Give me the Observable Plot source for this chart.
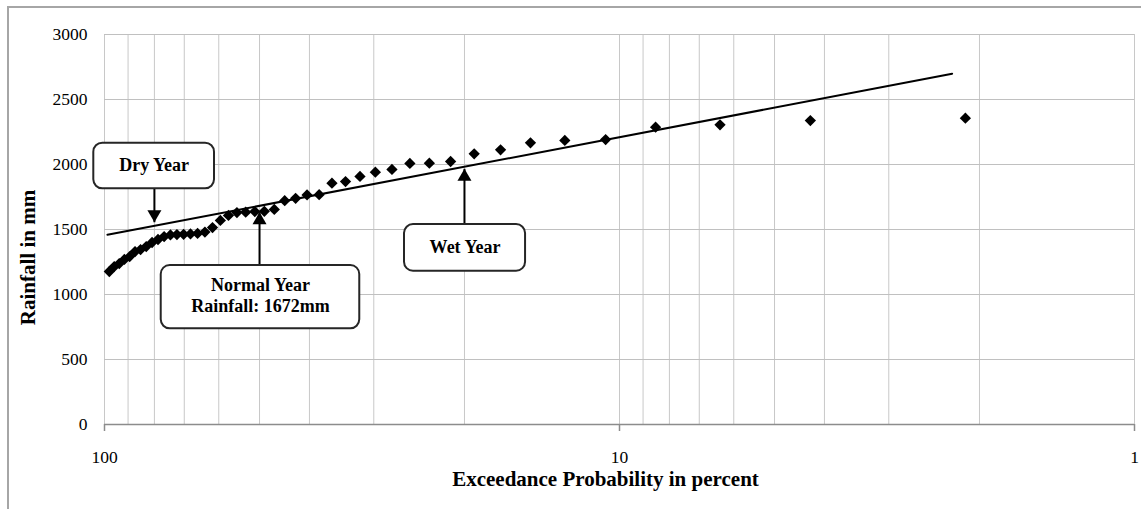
<!DOCTYPE html>
<html>
<head>
<meta charset="utf-8">
<script src="https://cdn.jsdelivr.net/npm/d3@7"></script>
<script src="https://cdn.jsdelivr.net/npm/@observablehq/plot@0.6"></script>
<style>
  html, body { margin: 0; padding: 0; background: #fff; }
  #wrap { position: relative; width: 1141px; height: 509px; overflow: hidden; }
  #border { position: absolute; left: 7px; top: 6px; width: 1200px; height: 600px;
            border-left: 2px solid #a6a6a6; border-top: 2px solid #a6a6a6; pointer-events: none; }
  svg { font-family: "Liberation Serif", "Times New Roman", serif; }
</style>
</head>
<body>
<div id="wrap"><div id="border"></div></div>
<script>
// Exceedance probability (%) of each ranked year
const exceedance = [2.13, 4.26, 6.38, 8.51, 10.64, 12.77, 14.89, 17.02, 19.15, 21.28,
  23.40, 25.53, 27.66, 29.79, 31.91, 34.04, 36.17, 38.30, 40.43, 42.55,
  44.68, 46.81, 48.94, 51.06, 53.19, 55.32, 57.45, 59.57, 61.70, 63.83,
  65.96, 68.09, 70.21, 72.34, 74.47, 76.60, 78.72, 80.85, 82.98, 85.11,
  87.23, 89.36, 91.49, 93.62, 95.74, 97.87];
// Annual rainfall (mm), ranked
const rainfall = [2356, 2338, 2305, 2287, 2192, 2185, 2167, 2113, 2082, 2023,
  2010, 2008, 1962, 1941, 1908, 1869, 1856, 1768, 1766, 1740,
  1722, 1654, 1640, 1638, 1633, 1630, 1608, 1570, 1515, 1480,
  1470, 1466, 1463, 1461, 1458, 1446, 1423, 1400, 1369, 1346,
  1330, 1292, 1270, 1238, 1215, 1177];
// Logarithmic trend line end points
const trendP = [98.7, 2.26];
const trendRain = [1459, 2698];
// Axis ticks and grid
const xTicks = [100, 10, 1];
const xGrid = [100, 90, 80, 70, 60, 50, 40, 30, 20, 10, 9, 8, 7, 6, 5, 4, 3, 2, 1];
const yTicks = [0, 500, 1000, 1500, 2000, 2500, 3000];
// Annotations
const annLabels = ["Dry Year", "Normal Year\nRainfall: 1672mm", "Wet Year"];
const annP1 = [104.9, 77.6, 26.15];
const annP2 = [61.15, 31.94, 15.22];
const annTop = [2164, 1223, 1538];
const annBottom = [1813, 736, 1179];
const arrowP = [80, 50, 20];
const arrowTip = [1556, 1633, 1967];
const arrowDir = ["down", "up", "up"];

const points = exceedance.map((p, i) => ({p, r: rainfall[i]}));
const trend = trendP.map((p, i) => ({p, r: trendRain[i]}));
const ann = annLabels.map((label, i) => ({
  label, p1: annP1[i], p2: annP2[i], top: annTop[i], bottom: annBottom[i],
  pc: Math.sqrt(annP1[i] * annP2[i]), rc: (annTop[i] + annBottom[i]) / 2,
  ap: arrowP[i], tip: arrowTip[i], dir: arrowDir[i],
  from: arrowDir[i] === "down" ? annBottom[i] : annTop[i]
}));

const chart = Plot.plot({
  width: 1141,
  height: 509,
  marginLeft: 104,
  marginRight: 7,
  marginTop: 34,
  marginBottom: 85,
  style: {fontFamily: "Liberation Serif, Times New Roman, serif", fontSize: "17.5px", background: "transparent", color: "#000"},
  x: {type: "log", domain: [100, 1], ticks: xTicks, tickFormat: d => String(d), tickSize: 0, tickPadding: 26, label: null},
  y: {domain: [0, 3000], ticks: yTicks, tickFormat: d => String(d), tickSize: 0, tickPadding: 17, label: null},
  marks: [
    Plot.ruleX(xGrid, {stroke: "#c8c8c8", strokeWidth: 1}),
    Plot.ruleY(yTicks, {stroke: "#c0c0c0", strokeWidth: 1}),
    Plot.ruleY([0], {stroke: "#8c8c8c", strokeWidth: 1.5}),
    Plot.ruleX(xTicks, {y1: 0, y2: 0, insetBottom: -7, stroke: "#8c8c8c", strokeWidth: 1.5}),
    Plot.line(trend, {x: "p", y: "r", stroke: "#000", strokeWidth: 2}),
    Plot.dot(points, {x: "p", y: "r", symbol: "square", r: 4.5, rotate: 45, fill: "#000", stroke: "none"}),
    Plot.link(ann, {x1: "ap", x2: "ap", y1: "from", y2: "tip", stroke: "#000", strokeWidth: 2}),
    Plot.dot(ann.filter(d => d.dir === "up"), {x: "ap", y: "tip", symbol: "triangle", r: 5.2, dy: 8, fill: "#000", stroke: "none"}),
    Plot.dot(ann.filter(d => d.dir === "down"), {x: "ap", y: "tip", symbol: "triangle", r: 5.2, rotate: 180, dy: -8, fill: "#000", stroke: "none"}),
    Plot.rect(ann, {x1: "p1", x2: "p2", y1: "bottom", y2: "top", fill: "#fff", stroke: "#262626", strokeWidth: 2, rx: 9}),
    Plot.text(ann, {x: "pc", y: "rc", text: "label", fontSize: 18, fontWeight: "bold", lineHeight: 1.15, dy: -2, fill: "#000"}),
    Plot.text(["Exceedance Probability in percent"], {frameAnchor: "bottom", dy: 61, dx: -14, fontSize: 21, fontWeight: "bold", fill: "#000"}),
    Plot.text(["Rainfall in mm"], {frameAnchor: "left", textAnchor: "middle", dx: -76, dy: 28, rotate: -90, fontSize: 21, fontWeight: "bold", fill: "#000"})
  ]
});
document.getElementById("wrap").prepend(chart);
</script>
</body>
</html>
